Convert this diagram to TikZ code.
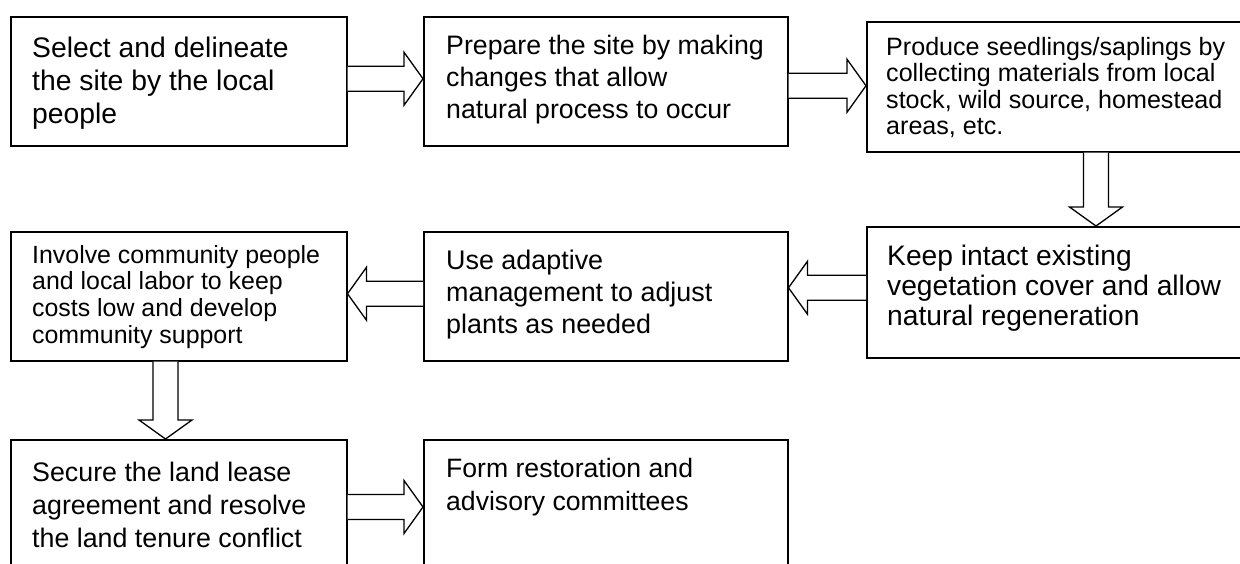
\documentclass[tikz,border=0pt]{standalone}
\usepackage{fontspec}
\setmainfont{Liberation Sans}
\usepackage{tikz}
\usetikzlibrary{calc}
\newcommand{\fsz}[2]{\fontsize{#1}{#2}\selectfont}
\newcommand{\blockarrow}[2]{
	\coordinate (hb) at ($(#2)!19pt!(#1)$);
	\draw[arrowline] ($(#1)!12.5pt!90:(#2)$) -- ($(hb)!12.5pt!90:(#2)$) -- ($(hb)!26.5pt!90:(#2)$) -- (#2)
		-- ($(hb)!26.5pt!-90:(#2)$) -- ($(hb)!12.5pt!-90:(#2)$) -- ($(#1)!12.5pt!-90:(#2)$);
}
\tikzset{
	box/.style={draw, line width=1.5pt, rectangle, inner sep=0pt, anchor=north west},
	txt/.style={inner sep=0pt, anchor=north west, align=left},
	arrowline/.style={draw=black, fill=white, line width=1.3pt, line join=miter}
}

\begin{document}
\begin{tikzpicture}[x=1pt,y=-1pt]
	\useasboundingbox (0,0) rectangle (1240,563);
	\clip (0,0) rectangle (1240,563);

	\node[box, minimum width=336pt, minimum height=129pt] (b1) at (10,16) {};
	\node[box, minimum width=364pt, minimum height=129pt] (b2) at (423,16) {};
	\node[box, minimum width=400pt, minimum height=130pt] (b3) at (866,21) {};
	\node[box, minimum width=400pt, minimum height=131pt] (b4) at (866,226) {};
	\node[box, minimum width=364pt, minimum height=129pt] (b5) at (423,231) {};
	\node[box, minimum width=336pt, minimum height=129pt] (b6) at (10,231) {};
	\node[box, minimum width=336pt, minimum height=160pt] (b7) at (10,439) {};
	\node[box, minimum width=364pt, minimum height=160pt] (b8) at (423,439) {};

	\node[txt, font=\fsz{28.3}{33}] (t1) at ([shift={(22pt,-21pt)}]b1.north west)
		{Select and delineate\\the site by the local\\people};
	\node[txt, font=\fsz{26.7}{32}] (t2) at ([shift={(23pt,-19pt)}]b2.north west)
		{Prepare the site by making\\changes that allow\\natural process to occur};
	\node[txt, font=\fsz{25.1}{26.5}] (t3) at ([shift={(20pt,-16pt)}]b3.north west)
		{Produce seedlings/saplings by\\collecting materials from local\\stock, wild source, homestead\\areas, etc.};
	\node[txt, font=\fsz{28.2}{30}] (t4) at ([shift={(21pt,-19pt)}]b4.north west)
		{Keep intact existing\\vegetation cover and allow\\natural regeneration};
	\node[txt, font=\fsz{26.9}{32}] (t5) at ([shift={(23pt,-19pt)}]b5.north west)
		{Use adaptive\\management to adjust\\plants as needed};
	\node[txt, font=\fsz{24.9}{26.7}] (t6) at ([shift={(22pt,-14pt)}]b6.north west)
		{Involve community people\\and local labor to keep\\costs low and develop\\community support};
	\node[txt, font=\fsz{26.8}{33}] (t7) at ([shift={(22pt,-23pt)}]b7.north west)
		{Secure the land lease\\agreement and resolve\\the land tenure conflict};
	\node[txt, font=\fsz{26.6}{33}] (t8) at ([shift={(23pt,-19pt)}]b8.north west)
		{Form restoration and\\advisory committees};

	\coordinate (p1) at ([yshift=2.5pt]b1.east);
	\coordinate (q1) at (b2.west |- p1);
	\coordinate (p2) at ([yshift=-4.5pt]b2.east);
	\coordinate (q2) at (b3.west |- p2);
	\coordinate (p3) at ([xshift=230pt]b3.south west);
	\coordinate (q3) at (b4.north west -| p3);
	\coordinate (p4) at ([yshift=4.5pt]b4.west);
	\coordinate (q4) at (b5.east |- p4);
	\coordinate (p5) at ([yshift=2.5pt]b5.west);
	\coordinate (q5) at (b6.east |- p5);
	\coordinate (p6) at ([xshift=155.5pt]b6.south west);
	\coordinate (q6) at (b7.north west -| p6);
	\coordinate (p7) at ([yshift=-68pt]b7.north east);
	\coordinate (q7) at (b8.west |- p7);

	\blockarrow{p1}{q1}
	\blockarrow{p2}{q2}
	\blockarrow{p3}{q3}
	\blockarrow{p4}{q4}
	\blockarrow{p5}{q5}
	\blockarrow{p6}{q6}
	\blockarrow{p7}{q7}
\end{tikzpicture}
\end{document}
